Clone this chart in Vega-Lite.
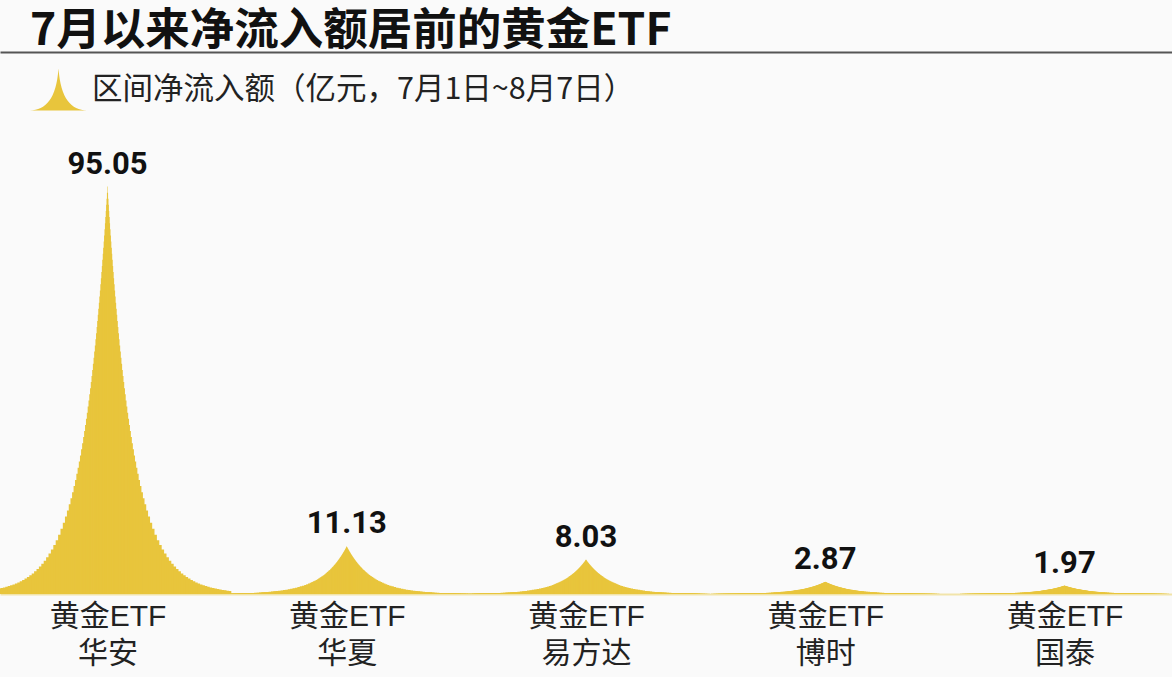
{
  "$schema": "https://vega.github.io/schema/vega-lite/v6.json",
  "width": 1172,
  "height": 493,
  "autosize": {"type": "none"},
  "padding": {"top": 101, "left": 0, "right": 0, "bottom": 83},
  "background": "#fafafa",
  "title": {
    "text": "7月以来净流入额居前的黄金ETF",
    "anchor": "start",
    "frame": "group",
    "font": "Noto Sans CJK SC",
    "fontSize": 44.5,
    "fontWeight": "bold",
    "color": "#111111",
    "dx": 30,
    "dy": 4,
    "offset": 2
  },
  "data": {
    "values": [
      {"fund": "华安", "value": 95.05},
      {"fund": "华夏", "value": 11.13},
      {"fund": "易方达", "value": 8.03},
      {"fund": "博时", "value": 2.87},
      {"fund": "国泰", "value": 1.97}
    ]
  },
  "encoding": {
    "x": {"field": "fund", "type": "nominal", "sort": null, "scale": {"type": "point", "padding": 0.4493}, "axis": null}
  },
  "layer": [
    {
      "mark": {"type": "bar", "width": 247.6},
      "encoding": {
        "x": {
          "field": "fund", "type": "nominal", "sort": null,
          "axis": {
            "orient": "bottom", "title": null, "ticks": false, "grid": false,
            "domainColor": "#f1e4aa", "domainWidth": 2,
            "labelAngle": 0, "labelFont": "Liberation Sans, Noto Sans CJK SC", "labelFontSize": 30,
            "labelColor": "#222222", "labelPadding": 7, "labelLineHeight": 37,
            "labelLimit": 400, "labelOverlap": false,
            "labelExpr": "['黄金ETF', datum.label]"
          }
        },
        "y": {"field": "value", "type": "quantitative", "axis": null, "scale": {"domain": [0, 15540]}},
        "color": {
          "datum": "区间净流入额（亿元，7月1日~8月7日）",
          "type": "nominal",
          "scale": {"range": ["#e8c53c"]},
          "legend": {
            "orient": "none", "legendX": 30, "legendY": -40, "title": null, "padding": 0,
            "symbolType": "M-1,0.74 C-0.45,0.7 -0.08,0.35 0,-0.74 C0.08,0.35 0.45,0.7 1,0.74 Z",
            "symbolSize": 3249, "symbolStrokeWidth": 0, "symbolOpacity": 1,
            "labelFont": "Noto Sans CJK SC", "labelFontSize": 30.5, "labelColor": "#222222",
            "labelOffset": 5, "labelLimit": 800
          }
        }
      }
    },
    {"mark": {"type": "bar", "width": 242.8}, "encoding": {"y": {"field": "value", "type": "quantitative", "axis": null, "scale": {"domain": [0, 14024]}}}},
    {"mark": {"type": "bar", "width": 238.0}, "encoding": {"y": {"field": "value", "type": "quantitative", "axis": null, "scale": {"domain": [0, 12778]}}}},
    {"mark": {"type": "bar", "width": 233.2}, "encoding": {"y": {"field": "value", "type": "quantitative", "axis": null, "scale": {"domain": [0, 11616]}}}},
    {"mark": {"type": "bar", "width": 228.4}, "encoding": {"y": {"field": "value", "type": "quantitative", "axis": null, "scale": {"domain": [0, 10550]}}}},
    {"mark": {"type": "bar", "width": 223.6}, "encoding": {"y": {"field": "value", "type": "quantitative", "axis": null, "scale": {"domain": [0, 9583]}}}},
    {"mark": {"type": "bar", "width": 218.8}, "encoding": {"y": {"field": "value", "type": "quantitative", "axis": null, "scale": {"domain": [0, 8712]}}}},
    {"mark": {"type": "bar", "width": 214.0}, "encoding": {"y": {"field": "value", "type": "quantitative", "axis": null, "scale": {"domain": [0, 7931]}}}},
    {"mark": {"type": "bar", "width": 209.2}, "encoding": {"y": {"field": "value", "type": "quantitative", "axis": null, "scale": {"domain": [0, 7188]}}}},
    {"mark": {"type": "bar", "width": 204.4}, "encoding": {"y": {"field": "value", "type": "quantitative", "axis": null, "scale": {"domain": [0, 6534]}}}},
    {"mark": {"type": "bar", "width": 199.6}, "encoding": {"y": {"field": "value", "type": "quantitative", "axis": null, "scale": {"domain": [0, 5928]}}}},
    {"mark": {"type": "bar", "width": 194.8}, "encoding": {"y": {"field": "value", "type": "quantitative", "axis": null, "scale": {"domain": [0, 5399]}}}},
    {"mark": {"type": "bar", "width": 190.0}, "encoding": {"y": {"field": "value", "type": "quantitative", "axis": null, "scale": {"domain": [0, 4894]}}}},
    {"mark": {"type": "bar", "width": 185.2}, "encoding": {"y": {"field": "value", "type": "quantitative", "axis": null, "scale": {"domain": [0, 4457]}}}},
    {"mark": {"type": "bar", "width": 180.4}, "encoding": {"y": {"field": "value", "type": "quantitative", "axis": null, "scale": {"domain": [0, 4049]}}}},
    {"mark": {"type": "bar", "width": 175.6}, "encoding": {"y": {"field": "value", "type": "quantitative", "axis": null, "scale": {"domain": [0, 3674]}}}},
    {"mark": {"type": "bar", "width": 170.8}, "encoding": {"y": {"field": "value", "type": "quantitative", "axis": null, "scale": {"domain": [0, 3333]}}}},
    {"mark": {"type": "bar", "width": 166.0}, "encoding": {"y": {"field": "value", "type": "quantitative", "axis": null, "scale": {"domain": [0, 3034]}}}},
    {"mark": {"type": "bar", "width": 161.2}, "encoding": {"y": {"field": "value", "type": "quantitative", "axis": null, "scale": {"domain": [0, 2751]}}}},
    {"mark": {"type": "bar", "width": 156.4}, "encoding": {"y": {"field": "value", "type": "quantitative", "axis": null, "scale": {"domain": [0, 2500]}}}},
    {"mark": {"type": "bar", "width": 151.6}, "encoding": {"y": {"field": "value", "type": "quantitative", "axis": null, "scale": {"domain": [0, 2273]}}}},
    {"mark": {"type": "bar", "width": 146.8}, "encoding": {"y": {"field": "value", "type": "quantitative", "axis": null, "scale": {"domain": [0, 2065]}}}},
    {"mark": {"type": "bar", "width": 142.0}, "encoding": {"y": {"field": "value", "type": "quantitative", "axis": null, "scale": {"domain": [0, 1876]}}}},
    {"mark": {"type": "bar", "width": 137.2}, "encoding": {"y": {"field": "value", "type": "quantitative", "axis": null, "scale": {"domain": [0, 1704]}}}},
    {"mark": {"type": "bar", "width": 132.4}, "encoding": {"y": {"field": "value", "type": "quantitative", "axis": null, "scale": {"domain": [0, 1548]}}}},
    {"mark": {"type": "bar", "width": 127.6}, "encoding": {"y": {"field": "value", "type": "quantitative", "axis": null, "scale": {"domain": [0, 1406]}}}},
    {"mark": {"type": "bar", "width": 122.8}, "encoding": {"y": {"field": "value", "type": "quantitative", "axis": null, "scale": {"domain": [0, 1278]}}}},
    {"mark": {"type": "bar", "width": 118.0}, "encoding": {"y": {"field": "value", "type": "quantitative", "axis": null, "scale": {"domain": [0, 1160]}}}},
    {"mark": {"type": "bar", "width": 113.2}, "encoding": {"y": {"field": "value", "type": "quantitative", "axis": null, "scale": {"domain": [0, 1055]}}}},
    {"mark": {"type": "bar", "width": 108.4}, "encoding": {"y": {"field": "value", "type": "quantitative", "axis": null, "scale": {"domain": [0, 958.3]}}}},
    {"mark": {"type": "bar", "width": 103.6}, "encoding": {"y": {"field": "value", "type": "quantitative", "axis": null, "scale": {"domain": [0, 870.6]}}}},
    {"mark": {"type": "bar", "width": 98.8}, "encoding": {"y": {"field": "value", "type": "quantitative", "axis": null, "scale": {"domain": [0, 790.9]}}}},
    {"mark": {"type": "bar", "width": 94.02}, "encoding": {"y": {"field": "value", "type": "quantitative", "axis": null, "scale": {"domain": [0, 718.75]}}}},
    {"mark": {"type": "bar", "width": 89.39}, "encoding": {"y": {"field": "value", "type": "quantitative", "axis": null, "scale": {"domain": [0, 657.14]}}}},
    {"mark": {"type": "bar", "width": 85.10}, "encoding": {"y": {"field": "value", "type": "quantitative", "axis": null, "scale": {"domain": [0, 605.26]}}}},
    {"mark": {"type": "bar", "width": 81.14}, "encoding": {"y": {"field": "value", "type": "quantitative", "axis": null, "scale": {"domain": [0, 560.98]}}}},
    {"mark": {"type": "bar", "width": 77.47}, "encoding": {"y": {"field": "value", "type": "quantitative", "axis": null, "scale": {"domain": [0, 522.73]}}}},
    {"mark": {"type": "bar", "width": 74.05}, "encoding": {"y": {"field": "value", "type": "quantitative", "axis": null, "scale": {"domain": [0, 489.36]}}}},
    {"mark": {"type": "bar", "width": 70.85}, "encoding": {"y": {"field": "value", "type": "quantitative", "axis": null, "scale": {"domain": [0, 460]}}}},
    {"mark": {"type": "bar", "width": 67.85}, "encoding": {"y": {"field": "value", "type": "quantitative", "axis": null, "scale": {"domain": [0, 433.96]}}}},
    {"mark": {"type": "bar", "width": 65.02}, "encoding": {"y": {"field": "value", "type": "quantitative", "axis": null, "scale": {"domain": [0, 410.71]}}}},
    {"mark": {"type": "bar", "width": 62.33}, "encoding": {"y": {"field": "value", "type": "quantitative", "axis": null, "scale": {"domain": [0, 389.83]}}}},
    {"mark": {"type": "bar", "width": 59.78}, "encoding": {"y": {"field": "value", "type": "quantitative", "axis": null, "scale": {"domain": [0, 370.97]}}}},
    {"mark": {"type": "bar", "width": 57.37}, "encoding": {"y": {"field": "value", "type": "quantitative", "axis": null, "scale": {"domain": [0, 353.85]}}}},
    {"mark": {"type": "bar", "width": 55.06}, "encoding": {"y": {"field": "value", "type": "quantitative", "axis": null, "scale": {"domain": [0, 338.24]}}}},
    {"mark": {"type": "bar", "width": 52.86}, "encoding": {"y": {"field": "value", "type": "quantitative", "axis": null, "scale": {"domain": [0, 323.94]}}}},
    {"mark": {"type": "bar", "width": 50.75}, "encoding": {"y": {"field": "value", "type": "quantitative", "axis": null, "scale": {"domain": [0, 310.81]}}}},
    {"mark": {"type": "bar", "width": 48.72}, "encoding": {"y": {"field": "value", "type": "quantitative", "axis": null, "scale": {"domain": [0, 298.7]}}}},
    {"mark": {"type": "bar", "width": 46.77}, "encoding": {"y": {"field": "value", "type": "quantitative", "axis": null, "scale": {"domain": [0, 287.5]}}}},
    {"mark": {"type": "bar", "width": 44.89}, "encoding": {"y": {"field": "value", "type": "quantitative", "axis": null, "scale": {"domain": [0, 277.11]}}}},
    {"mark": {"type": "bar", "width": 43.08}, "encoding": {"y": {"field": "value", "type": "quantitative", "axis": null, "scale": {"domain": [0, 267.44]}}}},
    {"mark": {"type": "bar", "width": 41.34}, "encoding": {"y": {"field": "value", "type": "quantitative", "axis": null, "scale": {"domain": [0, 258.43]}}}},
    {"mark": {"type": "bar", "width": 39.65}, "encoding": {"y": {"field": "value", "type": "quantitative", "axis": null, "scale": {"domain": [0, 250]}}}},
    {"mark": {"type": "bar", "width": 38.02}, "encoding": {"y": {"field": "value", "type": "quantitative", "axis": null, "scale": {"domain": [0, 242.11]}}}},
    {"mark": {"type": "bar", "width": 36.45}, "encoding": {"y": {"field": "value", "type": "quantitative", "axis": null, "scale": {"domain": [0, 234.69]}}}},
    {"mark": {"type": "bar", "width": 34.91}, "encoding": {"y": {"field": "value", "type": "quantitative", "axis": null, "scale": {"domain": [0, 227.72]}}}},
    {"mark": {"type": "bar", "width": 33.43}, "encoding": {"y": {"field": "value", "type": "quantitative", "axis": null, "scale": {"domain": [0, 221.15]}}}},
    {"mark": {"type": "bar", "width": 31.99}, "encoding": {"y": {"field": "value", "type": "quantitative", "axis": null, "scale": {"domain": [0, 214.95]}}}},
    {"mark": {"type": "bar", "width": 30.58}, "encoding": {"y": {"field": "value", "type": "quantitative", "axis": null, "scale": {"domain": [0, 209.09]}}}},
    {"mark": {"type": "bar", "width": 29.22}, "encoding": {"y": {"field": "value", "type": "quantitative", "axis": null, "scale": {"domain": [0, 203.54]}}}},
    {"mark": {"type": "bar", "width": 27.89}, "encoding": {"y": {"field": "value", "type": "quantitative", "axis": null, "scale": {"domain": [0, 198.28]}}}},
    {"mark": {"type": "bar", "width": 26.60}, "encoding": {"y": {"field": "value", "type": "quantitative", "axis": null, "scale": {"domain": [0, 193.28]}}}},
    {"mark": {"type": "bar", "width": 25.34}, "encoding": {"y": {"field": "value", "type": "quantitative", "axis": null, "scale": {"domain": [0, 188.52]}}}},
    {"mark": {"type": "bar", "width": 24.11}, "encoding": {"y": {"field": "value", "type": "quantitative", "axis": null, "scale": {"domain": [0, 184]}}}},
    {"mark": {"type": "bar", "width": 22.91}, "encoding": {"y": {"field": "value", "type": "quantitative", "axis": null, "scale": {"domain": [0, 179.69]}}}},
    {"mark": {"type": "bar", "width": 21.74}, "encoding": {"y": {"field": "value", "type": "quantitative", "axis": null, "scale": {"domain": [0, 175.57]}}}},
    {"mark": {"type": "bar", "width": 20.59}, "encoding": {"y": {"field": "value", "type": "quantitative", "axis": null, "scale": {"domain": [0, 171.64]}}}},
    {"mark": {"type": "bar", "width": 19.47}, "encoding": {"y": {"field": "value", "type": "quantitative", "axis": null, "scale": {"domain": [0, 167.88]}}}},
    {"mark": {"type": "bar", "width": 18.38}, "encoding": {"y": {"field": "value", "type": "quantitative", "axis": null, "scale": {"domain": [0, 164.29]}}}},
    {"mark": {"type": "bar", "width": 17.30}, "encoding": {"y": {"field": "value", "type": "quantitative", "axis": null, "scale": {"domain": [0, 160.84]}}}},
    {"mark": {"type": "bar", "width": 16.25}, "encoding": {"y": {"field": "value", "type": "quantitative", "axis": null, "scale": {"domain": [0, 157.53]}}}},
    {"mark": {"type": "bar", "width": 15.23}, "encoding": {"y": {"field": "value", "type": "quantitative", "axis": null, "scale": {"domain": [0, 154.36]}}}},
    {"mark": {"type": "bar", "width": 14.22}, "encoding": {"y": {"field": "value", "type": "quantitative", "axis": null, "scale": {"domain": [0, 151.32]}}}},
    {"mark": {"type": "bar", "width": 13.23}, "encoding": {"y": {"field": "value", "type": "quantitative", "axis": null, "scale": {"domain": [0, 148.39]}}}},
    {"mark": {"type": "bar", "width": 12.27}, "encoding": {"y": {"field": "value", "type": "quantitative", "axis": null, "scale": {"domain": [0, 145.57]}}}},
    {"mark": {"type": "bar", "width": 11.32}, "encoding": {"y": {"field": "value", "type": "quantitative", "axis": null, "scale": {"domain": [0, 142.86]}}}},
    {"mark": {"type": "bar", "width": 10.38}, "encoding": {"y": {"field": "value", "type": "quantitative", "axis": null, "scale": {"domain": [0, 140.24]}}}},
    {"mark": {"type": "bar", "width": 9.47}, "encoding": {"y": {"field": "value", "type": "quantitative", "axis": null, "scale": {"domain": [0, 137.72]}}}},
    {"mark": {"type": "bar", "width": 8.57}, "encoding": {"y": {"field": "value", "type": "quantitative", "axis": null, "scale": {"domain": [0, 135.29]}}}},
    {"mark": {"type": "bar", "width": 7.69}, "encoding": {"y": {"field": "value", "type": "quantitative", "axis": null, "scale": {"domain": [0, 132.95]}}}},
    {"mark": {"type": "bar", "width": 6.82}, "encoding": {"y": {"field": "value", "type": "quantitative", "axis": null, "scale": {"domain": [0, 130.68]}}}},
    {"mark": {"type": "bar", "width": 5.97}, "encoding": {"y": {"field": "value", "type": "quantitative", "axis": null, "scale": {"domain": [0, 128.49]}}}},
    {"mark": {"type": "bar", "width": 5.13}, "encoding": {"y": {"field": "value", "type": "quantitative", "axis": null, "scale": {"domain": [0, 126.37]}}}},
    {"mark": {"type": "bar", "width": 4.31}, "encoding": {"y": {"field": "value", "type": "quantitative", "axis": null, "scale": {"domain": [0, 124.32]}}}},
    {"mark": {"type": "bar", "width": 3.50}, "encoding": {"y": {"field": "value", "type": "quantitative", "axis": null, "scale": {"domain": [0, 122.34]}}}},
    {"mark": {"type": "bar", "width": 2.70}, "encoding": {"y": {"field": "value", "type": "quantitative", "axis": null, "scale": {"domain": [0, 120.42]}}}},
    {"mark": {"type": "bar", "width": 1.91}, "encoding": {"y": {"field": "value", "type": "quantitative", "axis": null, "scale": {"domain": [0, 118.56]}}}},
    {"mark": {"type": "bar", "width": 1.14}, "encoding": {"y": {"field": "value", "type": "quantitative", "axis": null, "scale": {"domain": [0, 116.75]}}}},
    {"mark": {"type": "bar", "width": 0.5}, "encoding": {"y": {"field": "value", "type": "quantitative", "axis": null, "scale": {"domain": [0, 115]}}}},
    {
      "mark": {"type": "text", "font": "Roboto", "fontSize": 31, "fontWeight": "bold", "color": "#111111", "baseline": "alphabetic", "dy": -13},
      "encoding": {
        "x": {
          "field": "fund", "type": "nominal", "sort": null,
          "axis": {"orient": "top", "title": null, "ticks": false, "labels": false, "grid": false, "domainColor": "#555555", "domainWidth": 2, "offset": 49}
        },
        "y": {"field": "value", "type": "quantitative", "axis": null, "scale": {"domain": [0, 115]}},
        "text": {"field": "value", "type": "quantitative", "format": ".2f"}
      }
    }
  ],
  "resolve": {"scale": {"y": "independent"}, "axis": {"x": "independent"}},
  "config": {"view": {"stroke": null}, "bar": {"color": "#e8c53c"}}
}
